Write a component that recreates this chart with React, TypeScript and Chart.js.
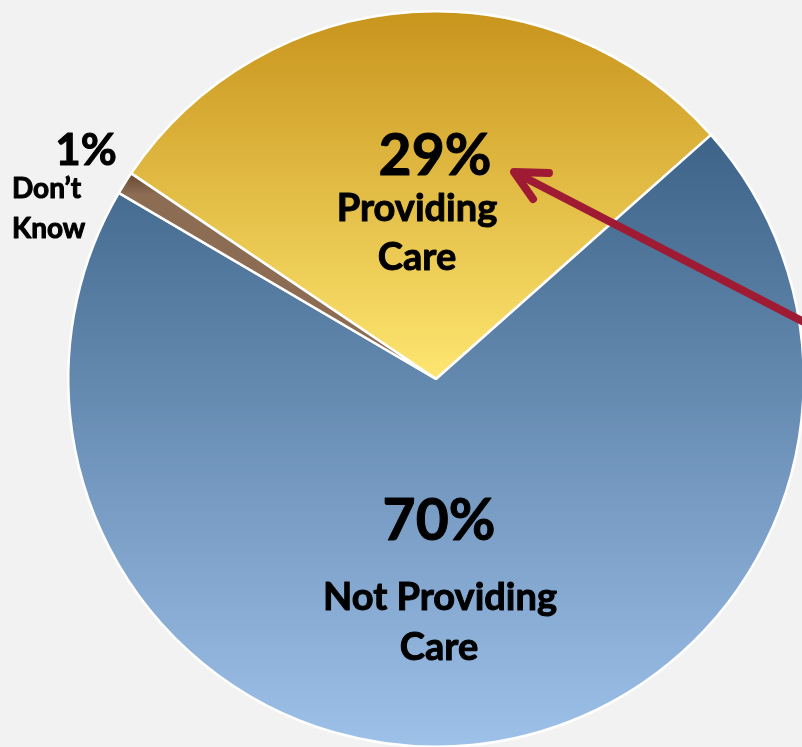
import React, { useEffect, useRef } from "react";
import { Chart, registerables } from "chart.js";

Chart.register(...registerables);

const categories = ["Providing Care", "Not Providing Care", "Don't Know"];
const values = [29, 70, 1];
const percentLabels = ["29%", "70%", "1%"];
const nameLines = [["Providing", "Care"], ["Not Providing", "Care"], ["Don\u2019t", "Know"]];

const FONT = "Lato, 'Open Sans', sans-serif";

function geom(chart: any) {
  const a = chart.chartArea;
  const cx = (a.left + a.right) / 2;
  const cy = (a.top + a.bottom) / 2;
  const r = Math.min(a.right - a.left, a.bottom - a.top) / 2;
  return { cx, cy, r };
}

function sliceFill(ctx: any) {
  const chart = ctx.chart;
  if (!chart.chartArea) return "#888";
  const { cy, r } = geom(chart);
  const c = chart.ctx;
  const i = ctx.dataIndex;
  let g;
  if (i === 0) {
    g = c.createLinearGradient(0, cy - r, 0, cy);
    g.addColorStop(0, "#c8941c");
    g.addColorStop(1, "#fde670");
  } else if (i === 1) {
    g = c.createLinearGradient(0, cy - 0.66 * r, 0, cy + r);
    g.addColorStop(0, "#3d6388");
    g.addColorStop(1, "#9ec1ea");
  } else {
    g = c.createLinearGradient(0, cy - 0.56 * r, 0, cy - 0.5 * r);
    g.addColorStop(0, "#674630");
    g.addColorStop(1, "#8d6c54");
  }
  return g;
}

function boldText(c: CanvasRenderingContext2D, s: string, x: number, y: number) {
  c.fillText(s, x, y);
  c.strokeText(s, x, y);
}

const overlay = {
  id: "overlay",
  afterDraw(chart: any) {
    const { cx, cy } = geom(chart);
    const c = chart.ctx as CanvasRenderingContext2D;
    c.save();
    // arrow
    const tipX = cx + 78, tipY = cy - 207;
    const tailX = cx + 420, tailY = cy - 30;
    c.strokeStyle = "#9e1b33";
    c.lineWidth = 8;
    c.lineCap = "round";
    c.lineJoin = "round";
    c.beginPath();
    c.moveTo(tailX, tailY);
    c.lineTo(tipX + 2, tipY + 1);
    c.stroke();
    c.beginPath();
    c.moveTo(tipX + 35, tipY + 1);
    c.lineTo(tipX, tipY);
    c.lineTo(tipX + 19, tipY + 27);
    c.stroke();

    c.fillStyle = "#000";
    c.strokeStyle = "#000";
    c.lineWidth = 1;
    c.lineJoin = "round";
    c.textBaseline = "alphabetic";
    // Providing care
    c.textAlign = "center";
    c.font = `bold 57px ${FONT}`;
    boldText(c, percentLabels[0], cx - 1, cy - 204);
    c.font = `bold 38px ${FONT}`;
    boldText(c, nameLines[0][0], cx - 19, cy - 158);
    boldText(c, nameLines[0][1], cx - 19, cy - 109);
    // Not providing
    c.font = `bold 57px ${FONT}`;
    boldText(c, percentLabels[1], cx + 3, cy + 161);
    c.font = `bold 38px ${FONT}`;
    boldText(c, nameLines[1][0], cx + 4, cy + 231);
    boldText(c, nameLines[1][1], cx + 3, cy + 281);
    // Don't know
    c.font = `bold 44px ${FONT}`;
    boldText(c, percentLabels[2], cx - 350, cy - 214);
    c.textAlign = "left";
    c.font = `bold 28px ${FONT}`;
    boldText(c, nameLines[2][0], cx - 424, cy - 181);
    boldText(c, nameLines[2][1], cx - 424, cy - 141);
    c.restore();
  },
};

export default function App() {
  const ref = useRef<HTMLCanvasElement | null>(null);
  useEffect(() => {
    document.body.style.margin = "0";
    document.body.style.overflow = "hidden";
    const chart = new Chart(ref.current!, {
      type: "pie",
      data: {
        labels: categories,
        datasets: [
          {
            data: values,
            backgroundColor: sliceFill as any,
            borderColor: "#ffffff",
            borderWidth: 2.5,
          },
        ],
      },
      options: {
        animation: false,
        responsive: false,
        devicePixelRatio: 1,
        rotation: -56,
        layout: { padding: 81 },
        plugins: { legend: { display: false }, tooltip: { enabled: false } },
      },
      plugins: [overlay],
    });
    return () => chart.destroy();
  }, []);
  return (
    <div
      style={{
        position: "fixed",
        left: 0,
        top: 0,
        width: 802,
        height: 747,
        overflow: "hidden",
        background: "#f2f2f2",
      }}
    >
      <canvas
        ref={ref}
        width={900}
        height={900}
        style={{ position: "absolute", left: -14, top: -71, width: 900, height: 900 }}
      />
    </div>
  );
}
